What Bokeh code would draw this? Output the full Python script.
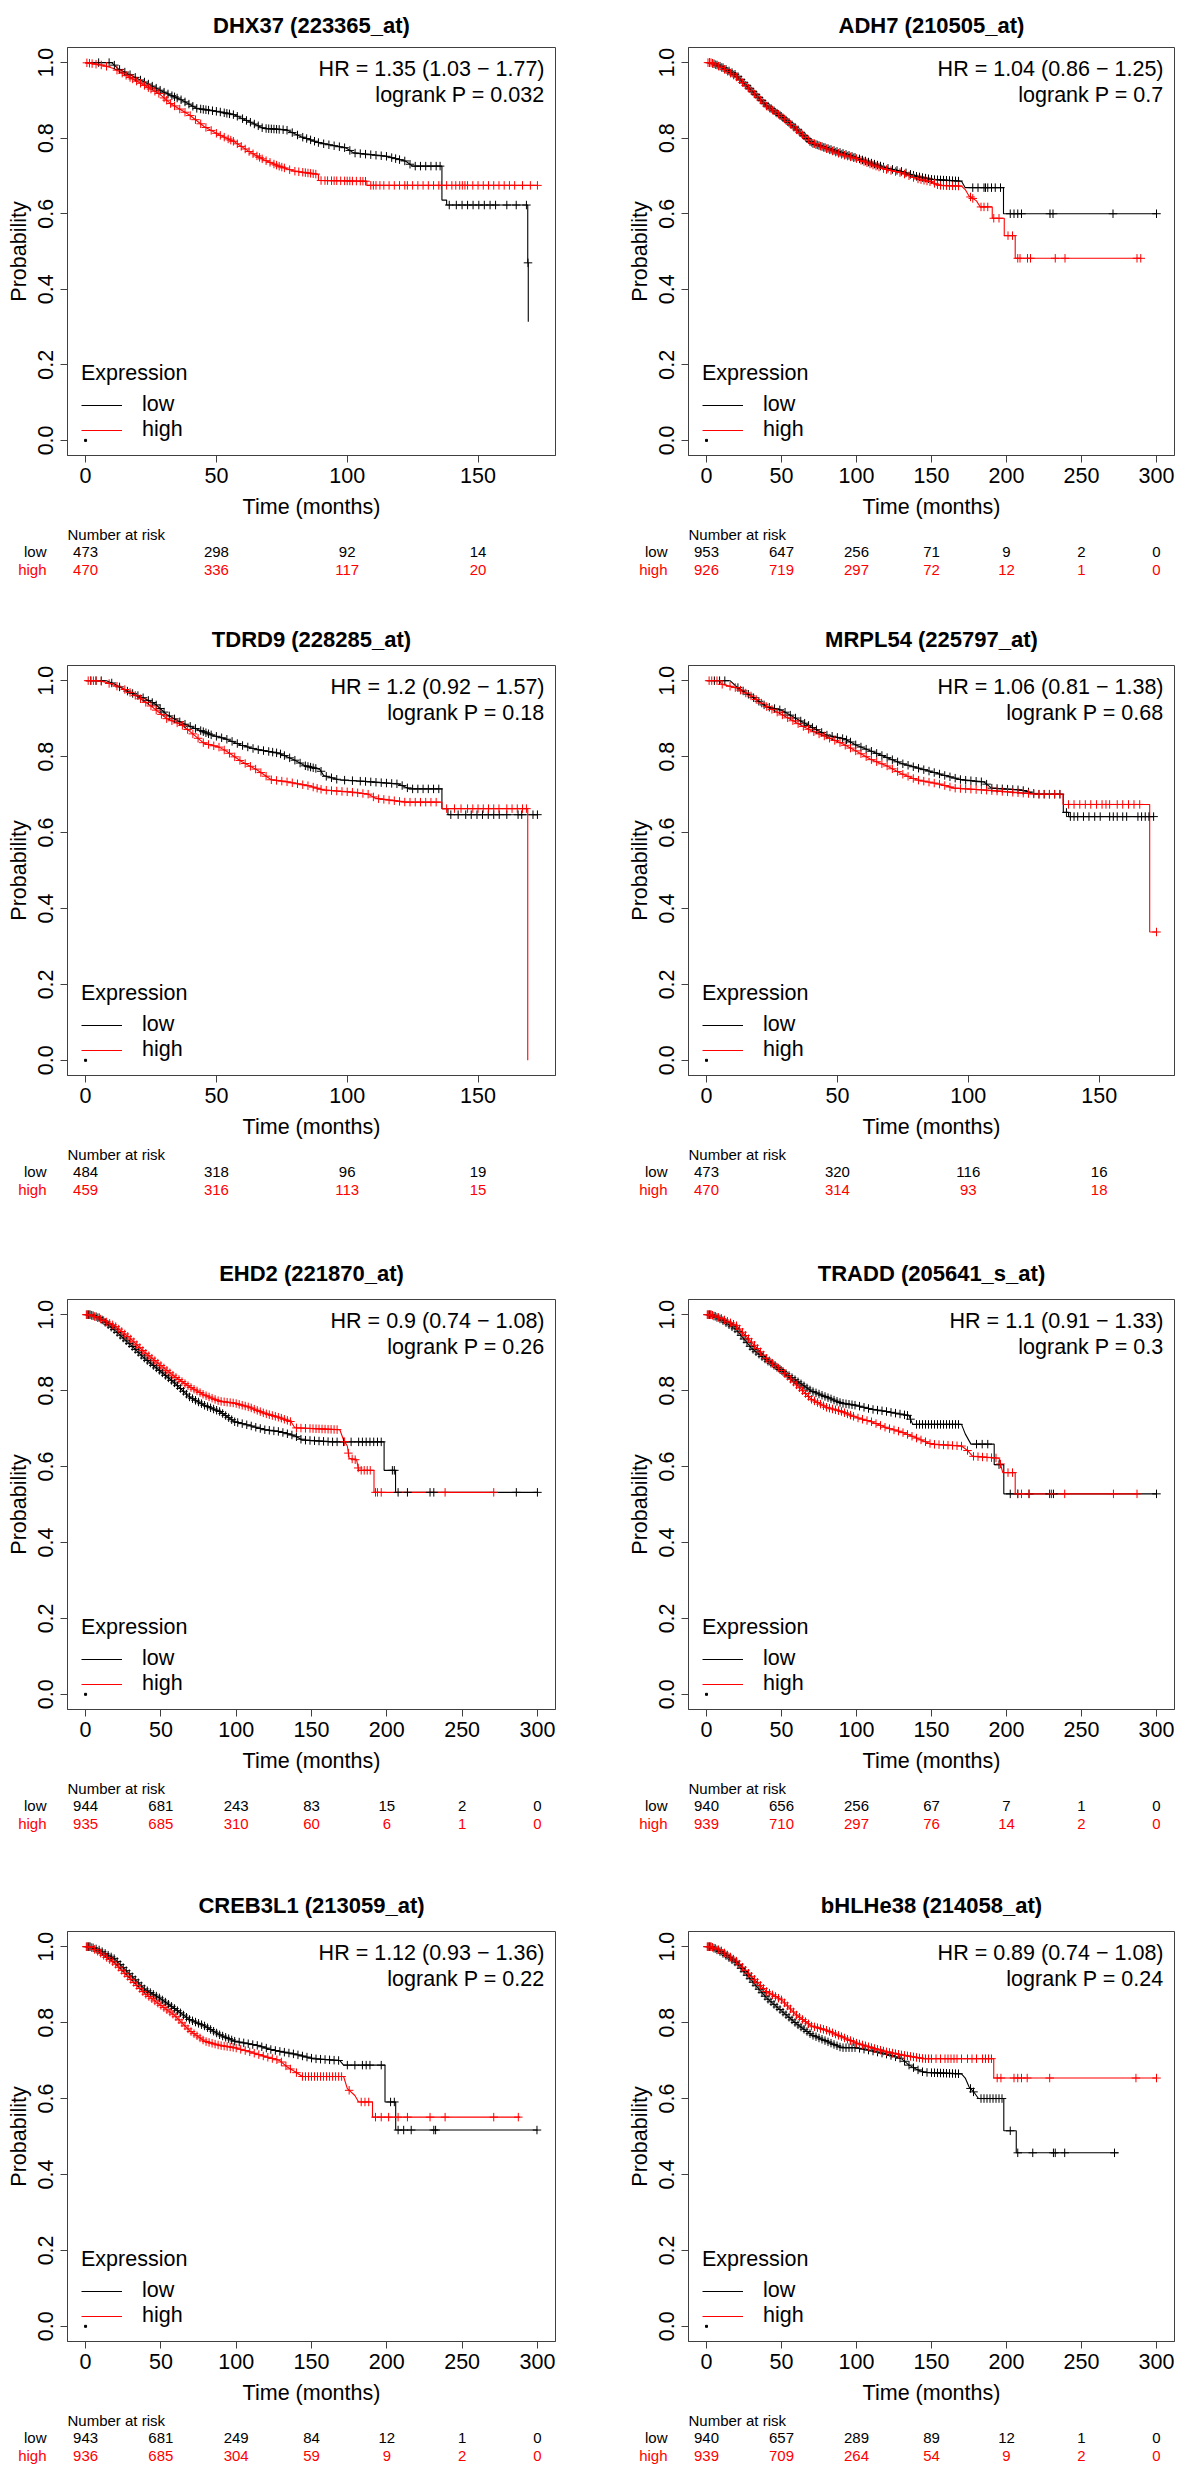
import math
from bokeh.plotting import figure
from bokeh.models import (Range1d, FixedTicker, PrintfTickFormatter, Label,
                          Legend, LegendItem, ColumnDataSource)
from bokeh.layouts import column, row
from bokeh.core.properties import value
from bokeh.embed import file_html
from bokeh.resources import INLINE

FONT = "Liberation Sans"
BOX = "#404040"
RED = "#FF0000"

# ---------------------------------------------------------------- DHX37
dhx37_low_t = [0, 10, 12.4, 22.4, 29.6, 36.7, 42.4, 51, 56.7, 65.3, 68, 76.7, 82.4, 89.6, 99.6, 102.4, 115, 122.4, 125, 136.2, 136.2, 138, 138, 169, 169, 169.2, 169.2]
dhx37_low_s = [1, 1, 0.984, 0.949, 0.923, 0.901, 0.879, 0.870, 0.862, 0.835, 0.826, 0.822, 0.804, 0.787, 0.774, 0.761, 0.752, 0.739, 0.726, 0.726, 0.636, 0.636, 0.623, 0.623, 0.470, 0.470, 0.314]
dhx37_high_t = [0, 6.7, 11, 15.3, 22.4, 28.1, 32.4, 39.6, 45.3, 51, 56.7, 62.4, 68.1, 73.9, 79.6, 89, 89, 107.5, 107.5, 172.7]
dhx37_high_s = [1, 0.993, 0.984, 0.967, 0.940, 0.918, 0.892, 0.862, 0.831, 0.809, 0.791, 0.765, 0.743, 0.726, 0.713, 0.704, 0.688, 0.686, 0.675, 0.675]
dhx37_low_cens = [5, 9, 11, 13, 15, 17, 19, 21, 22.5, 24, 25.5, 27, 28.5, 30, 31.5, 33, 34, 35, 36.5, 38, 39.5, 41, 42.5, 44, 45, 46, 47, 48.5, 50, 51.5, 53, 54, 55, 56.5, 58, 60, 61.5, 63, 64.5, 66, 67.5, 69, 70, 71, 72, 73, 74, 75.5, 77, 79, 81, 83, 84.5, 86, 87.5, 89, 91, 93, 95, 97, 99, 101, 103, 105, 107, 109, 111, 113, 115, 117, 118.5, 120, 122, 124, 126, 128, 130, 132, 134, 135.5, 139, 141.7, 143.9, 146, 148.1, 150.3, 152.4, 154.6, 156.7, 161, 164.6, 168.5, 169.1]
dhx37_high_cens = [0.5, 1.5, 2.5, 4, 6, 8, 12, 14, 15.5, 17, 18, 19.5, 21, 22.5, 24, 25, 26.5, 28, 30, 31, 32.5, 34, 36, 38, 40, 42, 44, 46, 48, 50, 51.5, 53, 54.5, 55.5, 56.5, 58, 59.5, 61, 62.5, 64, 65.5, 66.5, 67.5, 69, 70.5, 72, 73, 74, 75, 76, 78, 80, 81.5, 83, 84, 85, 86, 87, 88, 90, 91.5, 92.5, 94, 95, 96, 97.5, 99, 100, 101, 102, 103.5, 105, 106, 107, 109, 110, 111, 112.5, 114, 116, 118, 120, 122, 123, 125, 127, 129, 131, 133, 135, 136, 138, 140, 141.5, 143, 144, 145, 146, 148, 150, 152, 154, 156, 158, 160, 162, 164, 167, 170, 172.7]
dhx37_risk_t = [0, 50, 100, 150]
dhx37_risk_low = [473, 298, 92, 14]
dhx37_risk_high = [470, 336, 117, 20]

# ---------------------------------------------------------------- ADH7
adh7_low_t = [0, 3, 10, 20, 30, 40, 50, 60, 70, 80, 90, 100, 110, 120, 130, 140, 150, 170, 172.5, 198, 198, 300]
adh7_low_s = [1, 1, 0.989, 0.967, 0.927, 0.888, 0.857, 0.826, 0.787, 0.774, 0.761, 0.748, 0.734, 0.721, 0.712, 0.699, 0.691, 0.686, 0.669, 0.669, 0.600, 0.600]
adh7_high_t = [0, 3, 10, 20, 30, 40, 50, 60, 70, 80, 90, 100, 110, 120, 130, 140, 150, 155, 170, 172.5, 175, 180, 182.5, 190.5, 190.5, 198.5, 198.5, 205.8, 205.8, 289.5]
adh7_high_s = [1, 1, 0.987, 0.962, 0.925, 0.885, 0.858, 0.822, 0.789, 0.772, 0.757, 0.746, 0.730, 0.717, 0.708, 0.693, 0.684, 0.675, 0.673, 0.664, 0.647, 0.634, 0.618, 0.618, 0.588, 0.588, 0.542, 0.542, 0.482, 0.482]
adh7_low_cens = [2, 4, 5, 7, 9, 11, 13, 15, 17, 19, 21, 23, 25, 27, 29, 31, 33, 35, 37, 39, 41, 43, 45, 47, 49, 51, 53, 55, 57, 59, 61, 63, 65, 67, 69, 71, 73, 75, 77, 79, 81, 83, 85, 87, 89, 91, 93, 95, 97, 99, 102, 104, 106, 108, 110, 112, 114, 116, 118, 121, 124, 127, 130, 133, 136, 138, 140, 142, 144, 146, 148, 150, 152, 154, 156, 158, 160, 162, 164, 166, 168, 177.5, 181, 185, 186, 187.5, 190, 192.5, 196, 202.5, 205, 207.5, 210, 229, 231, 271, 300]
adh7_high_cens = [1, 2, 3, 4, 6, 8, 10, 12, 14, 16, 18, 20, 22, 24, 26, 28, 30, 32, 34, 36, 38, 40, 42, 44, 46, 48, 50, 52, 54, 56, 58, 60, 62, 64, 66, 68, 70, 72, 74, 76, 78, 80, 82, 84, 86, 88, 90, 92, 94, 96, 98, 100, 103, 105, 107, 109, 111, 113, 115, 118, 120, 123, 126, 129, 132, 135, 138, 141, 143, 145, 147, 149, 152, 154, 156, 158, 160, 162, 164, 166, 168, 176, 177.5, 183, 185, 187.5, 191.5, 195, 201, 204, 207.5, 209, 214, 216, 232.5, 239, 287, 289.5]
adh7_risk_t = [0, 50, 100, 150, 200, 250, 300]
adh7_risk_low = [953, 647, 256, 71, 9, 2, 0]
adh7_risk_high = [926, 719, 297, 72, 12, 1, 0]

# ---------------------------------------------------------------- TDRD9
tdrd9_low_t = [0, 8, 11, 16.7, 22.4, 26.7, 31, 36.7, 42.4, 48.1, 53.9, 59.6, 65.3, 73.9, 79.6, 83.9, 89.6, 91, 96.7, 108, 119.6, 123.9, 136.2, 136.2, 138.5, 138.5, 172.7]
tdrd9_low_s = [1, 1, 0.991, 0.970, 0.954, 0.938, 0.911, 0.889, 0.873, 0.857, 0.846, 0.830, 0.819, 0.809, 0.792, 0.776, 0.766, 0.750, 0.739, 0.734, 0.728, 0.715, 0.715, 0.663, 0.663, 0.647, 0.647]
tdrd9_high_t = [0, 5, 8, 13.9, 19.6, 25.3, 31, 36.7, 39.6, 45.3, 51, 53.9, 59.6, 65.3, 71, 76.7, 85.3, 91, 102.4, 108.1, 111, 122.4, 136.2, 136.2, 169, 169]
tdrd9_high_s = [1, 1, 0.995, 0.981, 0.959, 0.932, 0.900, 0.884, 0.868, 0.835, 0.825, 0.814, 0.787, 0.766, 0.739, 0.734, 0.723, 0.712, 0.706, 0.701, 0.690, 0.680, 0.680, 0.663, 0.663, 0.0]
tdrd9_low_cens = [2, 4, 6, 10, 13, 16, 18, 20, 22, 24, 25.5, 27, 28.5, 30, 32, 34, 36, 38, 40, 42, 44, 45, 46, 47, 48, 50, 52, 54, 56, 58, 60, 62, 64, 66, 68, 70, 71.5, 73, 74.5, 76, 78, 80, 82, 84, 85, 86, 87, 88, 90, 92, 94, 96, 99, 102, 105, 107, 109, 111, 113, 115, 117, 119, 121, 123, 125, 127, 129, 131, 133, 135, 139.6, 142.4, 145.3, 147.4, 149.6, 151.7, 153.9, 156, 158.1, 161, 165.3, 166.7, 171, 172.7]
tdrd9_high_cens = [1, 2, 3, 4, 6, 9, 12, 15, 17, 19, 21, 23, 25, 27, 29, 31, 33, 35, 37, 39, 41, 43, 45, 47, 49, 51, 53, 55, 57, 59, 61, 63, 65, 67, 69, 71, 73, 75, 77, 79, 81, 83, 85, 87, 88.5, 90, 92, 94, 96, 98, 100, 102, 104, 106, 108, 110, 112, 114, 116, 118, 120, 122, 124, 126, 128, 130, 132, 134, 138, 141, 143.5, 146, 148, 150, 152, 154, 156, 158, 161, 163, 165, 167, 168.5]
tdrd9_risk_t = [0, 50, 100, 150]
tdrd9_risk_low = [484, 318, 96, 19]
tdrd9_risk_high = [459, 316, 113, 15]

# ---------------------------------------------------------------- MRPL54
mrpl54_low_t = [0, 9, 11.5, 17.2, 22.9, 28.7, 34.4, 40.1, 45.8, 53, 57.3, 63, 68.8, 74.5, 80.2, 86, 91.7, 97.4, 106, 108.9, 120.3, 126.1, 136.3, 136.3, 138.3, 138.3, 170.8]
mrpl54_low_s = [1, 1, 0.984, 0.959, 0.932, 0.922, 0.900, 0.878, 0.857, 0.846, 0.830, 0.814, 0.798, 0.782, 0.771, 0.760, 0.749, 0.739, 0.733, 0.717, 0.712, 0.701, 0.701, 0.653, 0.653, 0.642, 0.642]
mrpl54_high_t = [0, 5, 5.7, 11.5, 17.2, 22.9, 28.7, 34.4, 40.1, 45.8, 51.6, 57.3, 63, 68.8, 74.5, 80.2, 88.8, 94.6, 106, 111.7, 126.1, 136.2, 136.2, 169.3, 169.3, 171.9]
mrpl54_high_s = [1, 1, 0.991, 0.981, 0.959, 0.932, 0.911, 0.889, 0.868, 0.852, 0.835, 0.814, 0.792, 0.776, 0.755, 0.739, 0.728, 0.717, 0.712, 0.709, 0.701, 0.701, 0.674, 0.674, 0.338, 0.338]
mrpl54_low_cens = [3, 5, 7, 12, 14, 16, 18, 20, 22, 24, 26, 28, 30, 32, 34, 36, 37.5, 39, 40.5, 42, 44, 46, 48, 50, 52, 53.5, 55, 57, 59, 61, 63, 65, 67, 69, 71, 73, 75, 77, 79, 81, 83, 85, 87, 89, 91, 93, 95, 97, 99, 101, 103, 105, 107, 109, 111, 113, 115, 117, 119, 121, 123, 125, 127, 129, 131, 133, 135, 137.5, 139, 140.4, 141.8, 144, 146.1, 148.3, 150.4, 154, 155.4, 156.9, 159, 160.5, 164.8, 166.2, 167.6, 169, 170.8]
mrpl54_high_cens = [1, 2, 4, 6, 9, 11, 13, 15, 17, 19, 21, 23, 25, 27, 29, 31, 33, 35, 37, 39, 41, 43, 45, 47, 49, 51, 53, 55, 57, 59, 61, 63, 65, 67, 69, 71, 73, 75, 77, 79, 81, 83, 85, 87, 89, 91, 93, 95, 97, 99, 101, 103, 105, 107, 109, 111, 113, 115, 117, 119, 121, 123, 125, 127, 129, 131, 133, 135, 138.3, 140.4, 142.6, 144.7, 146.8, 149, 151.1, 152.6, 154, 156.9, 159, 161.2, 163.3, 165.5, 171.9]
mrpl54_risk_t = [0, 50, 100, 150]
mrpl54_risk_low = [473, 320, 116, 16]
mrpl54_risk_high = [470, 314, 93, 18]

# ---------------------------------------------------------------- EHD2
ehd2_low_t = [0, 3, 9.2, 19.2, 29.2, 39.2, 49.1, 59.1, 69.1, 79.1, 89, 99, 109, 118.9, 128.9, 138.9, 143.9, 163.8, 198.2, 198.2, 205.8, 205.8, 300]
ehd2_low_s = [1, 1, 0.992, 0.960, 0.923, 0.885, 0.853, 0.820, 0.783, 0.761, 0.745, 0.718, 0.708, 0.697, 0.692, 0.681, 0.670, 0.665, 0.665, 0.590, 0.590, 0.532, 0.532]
ehd2_high_t = [0, 3, 9.2, 19.2, 29.2, 39.2, 49.1, 59.1, 69.1, 79.1, 89, 99, 109, 118.9, 128.9, 136.4, 138.9, 168.8, 171.3, 173.8, 175, 180, 181.3, 191.5, 191.5, 271]
ehd2_high_s = [1, 1, 0.990, 0.971, 0.939, 0.901, 0.869, 0.837, 0.810, 0.788, 0.772, 0.767, 0.756, 0.740, 0.729, 0.718, 0.702, 0.697, 0.670, 0.654, 0.622, 0.617, 0.590, 0.590, 0.532, 0.532]
ehd2_low_cens = [1, 2, 3, 4, 5, 7, 9, 11, 13, 15, 17, 19, 21, 23, 25, 27, 29, 31, 33, 35, 37, 39, 41, 43, 45, 47, 49, 51, 53, 55, 57, 59, 61, 63, 65, 67, 69, 71, 73, 75, 77, 79, 81, 83, 85, 87, 89, 91, 93, 95, 97, 99, 101, 104, 107, 110, 113, 116, 119, 122, 125, 128, 131, 134, 137, 140, 143, 146, 149, 152, 155, 158, 161, 164, 167, 171.3, 176.3, 181.3, 183.8, 186.3, 188.8, 191.3, 193.8, 196.3, 203.7, 205, 207.5, 213.7, 228.7, 231.2, 286, 300]
ehd2_high_cens = [0.5, 1.5, 2.5, 4, 6, 8, 10, 12, 14, 16, 18, 20, 22, 24, 26, 28, 30, 32, 34, 36, 38, 40, 42, 44, 46, 48, 50, 52, 54, 56, 58, 60, 62, 64, 66, 68, 70, 72, 74, 76, 78, 80, 82, 84, 86, 88, 90, 92, 94, 96, 98, 100, 102, 104, 106, 108, 110, 112, 114, 116, 118, 120, 122, 124, 126, 128, 130, 132, 134, 136, 140, 143, 146, 149, 151, 153, 155, 157, 159, 161, 163, 165, 167, 172, 174.5, 177, 179, 181, 183, 185, 187, 189, 192.5, 193.8, 196.3, 238.7, 271]
ehd2_risk_t = [0, 50, 100, 150, 200, 250, 300]
ehd2_risk_low = [944, 681, 243, 83, 15, 2, 0]
ehd2_risk_high = [935, 685, 310, 60, 6, 1, 0]

# ---------------------------------------------------------------- TRADD
tradd_low_t = [0, 3, 10, 20, 30, 40, 50, 60, 70, 80, 90, 100, 110, 120, 135, 137.5, 170, 172.5, 176.3, 191.8, 191.8, 198.2, 198.2, 300]
tradd_low_s = [1, 1, 0.987, 0.960, 0.912, 0.880, 0.853, 0.826, 0.799, 0.783, 0.767, 0.761, 0.751, 0.745, 0.734, 0.711, 0.711, 0.686, 0.659, 0.659, 0.605, 0.605, 0.528, 0.528]
tradd_high_t = [0, 3, 10, 20, 30, 40, 50, 60, 70, 80, 90, 100, 110, 120, 130, 140, 150, 170, 173.8, 177.5, 195, 197.5, 205.8, 205.8, 287.5]
tradd_high_s = [1, 1, 0.990, 0.971, 0.928, 0.885, 0.853, 0.815, 0.777, 0.756, 0.745, 0.729, 0.718, 0.702, 0.691, 0.675, 0.659, 0.654, 0.643, 0.627, 0.622, 0.584, 0.584, 0.528, 0.528]
tradd_low_cens = [1, 2, 3, 5, 7, 9, 11, 13, 15, 17, 19, 21, 23, 25, 27, 29, 31, 33, 35, 37, 39, 41, 43, 45, 47, 49, 51, 53, 55, 57, 59, 61, 63, 65, 67, 69, 71, 73, 75, 77, 79, 81, 83, 85, 87, 89, 91, 93, 95, 97, 99, 102, 105, 108, 111, 114, 117, 120, 123, 126, 129, 132, 134, 136, 140, 142, 144, 146, 148, 150, 152, 154, 156, 158, 160, 162, 164, 166, 168, 180, 183.8, 187.5, 195, 202.5, 207.5, 215, 228.8, 231.3, 300]
tradd_high_cens = [0.5, 1.5, 2.5, 4, 6, 8, 10, 12, 14, 16, 18, 20, 22, 24, 26, 28, 30, 32, 34, 36, 38, 40, 42, 44, 46, 48, 50, 52, 54, 56, 58, 60, 62, 64, 66, 68, 70, 72, 74, 76, 78, 80, 82, 84, 86, 88, 90, 92, 94, 96, 98, 101, 104, 107, 110, 113, 116, 119, 122, 125, 128, 131, 134, 137, 140, 143, 146, 149, 152, 155, 158, 161, 164, 167, 170, 174, 178, 181, 184, 187, 190, 193, 196, 201, 204, 207.5, 210, 215, 230, 238.8, 271.3, 287]
tradd_risk_t = [0, 50, 100, 150, 200, 250, 300]
tradd_risk_low = [940, 656, 256, 67, 7, 1, 0]
tradd_risk_high = [939, 710, 297, 76, 14, 2, 0]

# ---------------------------------------------------------------- CREB3L1
creb3l1_low_t = [0, 3, 9.2, 19.2, 29.2, 39.2, 49.1, 59.1, 69.1, 79.1, 89, 99, 114, 124, 138.9, 151.4, 168.8, 171.3, 198.8, 198.8, 205.9, 205.9, 300]
creb3l1_low_s = [1, 1, 0.991, 0.968, 0.928, 0.888, 0.865, 0.837, 0.808, 0.791, 0.768, 0.751, 0.740, 0.728, 0.717, 0.705, 0.700, 0.688, 0.688, 0.591, 0.591, 0.517, 0.517]
creb3l1_high_t = [0, 3, 9.2, 19.2, 29.2, 39.2, 49.1, 59.1, 69.1, 79.1, 89, 99, 109, 118.9, 128.9, 133.9, 138.9, 143.9, 171.3, 173.8, 178.8, 181.3, 190.5, 190.5, 288.5]
creb3l1_high_s = [1, 1, 0.985, 0.957, 0.917, 0.877, 0.848, 0.819, 0.779, 0.751, 0.740, 0.734, 0.723, 0.711, 0.700, 0.683, 0.671, 0.658, 0.658, 0.626, 0.608, 0.591, 0.591, 0.551, 0.551]
creb3l1_low_cens = [1, 2, 3, 5, 7, 9, 11, 13, 15, 17, 19, 21, 23, 25, 27, 29, 31, 33, 35, 37, 39, 41, 43, 45, 47, 49, 51, 53, 55, 57, 59, 61, 63, 65, 67, 69, 71, 73, 75, 77, 79, 81, 83, 85, 87, 89, 91, 93, 95, 97, 99, 102, 105, 108, 111, 114, 117, 120, 123, 126, 129, 132, 135, 138, 141, 144, 147, 150, 153, 156, 159, 162, 165, 168, 173.8, 178.8, 183.8, 186.3, 188.8, 196.3, 202.5, 205, 207.5, 211.2, 216.2, 231.2, 232.4, 299.7]
creb3l1_high_cens = [0.5, 1.5, 2.5, 4, 6, 8, 10, 12, 14, 16, 18, 20, 22, 24, 26, 28, 30, 32, 34, 36, 38, 40, 42, 44, 46, 48, 50, 52, 54, 56, 58, 60, 62, 64, 66, 68, 70, 72, 74, 76, 78, 80, 82, 84, 86, 88, 90, 92, 94, 96, 98, 100, 103, 106, 109, 112, 115, 118, 121, 124, 127, 130, 133, 136, 140, 144, 146, 148, 150, 152, 154, 156, 158, 160, 162, 164, 166, 168, 170, 175, 183, 185.5, 188, 192.5, 196.3, 201.2, 207.5, 213.7, 228.7, 238.7, 271, 287.3]
creb3l1_risk_t = [0, 50, 100, 150, 200, 250, 300]
creb3l1_risk_low = [943, 681, 249, 84, 12, 1, 0]
creb3l1_risk_high = [936, 685, 304, 59, 9, 2, 0]

# ---------------------------------------------------------------- bHLHe38
bhlhe38_low_t = [0, 3, 10, 20, 30, 40, 50, 60, 70, 80, 90, 100, 110, 120, 130, 135, 140, 145, 170, 172.5, 175, 178.8, 181.3, 198.2, 198.2, 206.5, 206.5, 274.5]
bhlhe38_low_s = [1, 1, 0.985, 0.957, 0.911, 0.865, 0.831, 0.797, 0.768, 0.751, 0.734, 0.734, 0.726, 0.717, 0.705, 0.688, 0.677, 0.669, 0.665, 0.654, 0.631, 0.614, 0.600, 0.600, 0.515, 0.515, 0.457, 0.457]
bhlhe38_high_t = [0, 3, 10, 20, 30, 40, 50, 60, 70, 80, 90, 100, 110, 120, 130, 145, 191.5, 191.5, 300]
bhlhe38_high_s = [1, 1, 0.989, 0.962, 0.922, 0.882, 0.860, 0.820, 0.791, 0.780, 0.763, 0.746, 0.734, 0.723, 0.715, 0.705, 0.705, 0.654, 0.654]
bhlhe38_low_cens = [1, 2, 3, 5, 7, 9, 11, 13, 15, 17, 19, 21, 23, 25, 27, 29, 31, 33, 35, 37, 39, 41, 43, 45, 47, 49, 51, 53, 55, 57, 59, 61, 63, 65, 67, 69, 71, 73, 75, 77, 79, 81, 83, 85, 87, 89, 91, 93, 95, 97, 99, 102, 105, 108, 111, 114, 117, 120, 123, 126, 129, 132, 135, 138, 141, 144, 147, 150, 152, 154, 156, 158, 160, 162, 164, 166, 168, 176, 178, 183, 185, 187, 189, 191, 193, 195, 197, 202.5, 207.5, 217.5, 231.3, 232.5, 238.8, 272]
bhlhe38_high_cens = [0.5, 1.5, 2.5, 4, 6, 8, 10, 12, 14, 16, 18, 20, 22, 24, 26, 28, 30, 32, 34, 36, 38, 40, 42, 44, 46, 48, 50, 52, 54, 56, 58, 60, 62, 64, 66, 68, 70, 72, 74, 76, 78, 80, 82, 84, 86, 88, 90, 92, 94, 96, 98, 100, 102, 104, 106, 108, 110, 112, 114, 116, 118, 120, 122, 124, 126, 128, 130, 132, 134, 136, 138, 140, 142, 144, 146, 148, 150, 153, 156, 159, 161, 163, 165, 167, 170, 174, 177, 180, 184, 186, 188, 190, 193.8, 196.3, 205, 207.5, 210, 213.8, 228.8, 286.3, 300]
bhlhe38_risk_t = [0, 50, 100, 150, 200, 250, 300]
bhlhe38_risk_low = [940, 657, 289, 89, 12, 1, 0]
bhlhe38_risk_high = [939, 709, 264, 54, 9, 2, 0]

titles = ["DHX37 (223365_at)", "ADH7 (210505_at)", "TDRD9 (228285_at)", "MRPL54 (225797_at)",
          "EHD2 (221870_at)", "TRADD (205641_s_at)", "CREB3L1 (213059_at)", "bHLHe38 (214058_at)"]
hr_texts = ["HR = 1.35 (1.03 \u2212 1.77)", "HR = 1.04 (0.86 \u2212 1.25)", "HR = 1.2 (0.92 \u2212 1.57)",
            "HR = 1.06 (0.81 \u2212 1.38)", "HR = 0.9 (0.74 \u2212 1.08)", "HR = 1.1 (0.91 \u2212 1.33)",
            "HR = 1.12 (0.93 \u2212 1.36)", "HR = 0.89 (0.74 \u2212 1.08)"]
p_texts = ["logrank P = 0.032", "logrank P = 0.7", "logrank P = 0.18", "logrank P = 0.68",
           "logrank P = 0.26", "logrank P = 0.3", "logrank P = 0.22", "logrank P = 0.24"]
y_ticks = [0.0, 0.2, 0.4, 0.6, 0.8, 1.0]
risk_groups = ["low", "high"]

panels = [
    (dhx37_low_t, dhx37_low_s, dhx37_high_t, dhx37_high_s, dhx37_low_cens, dhx37_high_cens, dhx37_risk_t, dhx37_risk_low, dhx37_risk_high),
    (adh7_low_t, adh7_low_s, adh7_high_t, adh7_high_s, adh7_low_cens, adh7_high_cens, adh7_risk_t, adh7_risk_low, adh7_risk_high),
    (tdrd9_low_t, tdrd9_low_s, tdrd9_high_t, tdrd9_high_s, tdrd9_low_cens, tdrd9_high_cens, tdrd9_risk_t, tdrd9_risk_low, tdrd9_risk_high),
    (mrpl54_low_t, mrpl54_low_s, mrpl54_high_t, mrpl54_high_s, mrpl54_low_cens, mrpl54_high_cens, mrpl54_risk_t, mrpl54_risk_low, mrpl54_risk_high),
    (ehd2_low_t, ehd2_low_s, ehd2_high_t, ehd2_high_s, ehd2_low_cens, ehd2_high_cens, ehd2_risk_t, ehd2_risk_low, ehd2_risk_high),
    (tradd_low_t, tradd_low_s, tradd_high_t, tradd_high_s, tradd_low_cens, tradd_high_cens, tradd_risk_t, tradd_risk_low, tradd_risk_high),
    (creb3l1_low_t, creb3l1_low_s, creb3l1_high_t, creb3l1_high_s, creb3l1_low_cens, creb3l1_high_cens, creb3l1_risk_t, creb3l1_risk_low, creb3l1_risk_high),
    (bhlhe38_low_t, bhlhe38_low_s, bhlhe38_high_t, bhlhe38_high_s, bhlhe38_low_cens, bhlhe38_high_cens, bhlhe38_risk_t, bhlhe38_risk_low, bhlhe38_risk_high),
]

# layout (pixels)
ROW_H = [611, 634, 632, 587]
ROW_TOP = [45, 54, 54, 54]
TITLE_STANDOFF = [20, 27, 27, 27]
FRAME_H = 410
MAIN_BOTTOM = 70
LEFT_B = 67
COL_W = [621, 555]
RIGHT_B = [66, 2]
Y0, Y1 = -0.04, 1.04


def surv_at(ts, ss, t):
    for i in range(len(ts) - 1):
        if ts[i + 1] > ts[i] and ts[i] <= t <= ts[i + 1]:
            return ss[i] + (ss[i + 1] - ss[i]) * (t - ts[i]) / (ts[i + 1] - ts[i])
    return ss[-1]


def make_panel(idx, row_i, col_i):
    lt, ls, ht, hs, lc, hc, rt, rl, rh = panels[idx]
    xmax = max(max(lt), max(ht))
    x0, x1 = -0.04 * xmax, 1.04 * xmax
    W = COL_W[col_i]
    top = ROW_TOP[row_i]
    fw = W - LEFT_B - RIGHT_B[col_i]
    per_px = (x1 - x0) / fw

    def yd(px):
        return Y1 - px * (Y1 - Y0) / FRAME_H

    p = figure(width=W, height=top + FRAME_H + MAIN_BOTTOM, x_range=Range1d(x0, x1),
               y_range=Range1d(Y0, Y1), toolbar_location=None, output_backend="svg",
               min_border_left=LEFT_B, min_border_right=RIGHT_B[col_i],
               min_border_top=top, min_border_bottom=MAIN_BOTTOM,
               background_fill_color="white", border_fill_color="white")
    p.outline_line_color = BOX
    p.outline_line_width = 1
    p.xgrid.visible = False
    p.ygrid.visible = False

    p.title.text = titles[idx]
    p.title.align = "center"
    p.title.text_font = FONT
    p.title.text_font_size = "22px"
    p.title.text_font_style = "bold"
    p.title.text_color = "black"
    p.title.standoff = TITLE_STANDOFF[row_i]

    for ax in (p.xaxis[0], p.yaxis[0]):
        ax.axis_line_color = BOX
        ax.major_tick_line_color = BOX
        ax.major_tick_in = 0
        ax.major_tick_out = 7
        ax.minor_tick_line_color = None
        ax.major_label_text_font = FONT
        ax.major_label_text_font_size = "21.5px"
        ax.major_label_text_color = "black"
        ax.axis_label_text_font = FONT
        ax.axis_label_text_font_size = "21.5px"
        ax.axis_label_text_font_style = "normal"
        ax.axis_label_text_color = "black"
    p.xaxis.ticker = FixedTicker(ticks=rt)
    p.xaxis.axis_label = "Time (months)"
    p.xaxis.major_label_standoff = 5
    p.xaxis.axis_label_standoff = 9
    p.yaxis.ticker = FixedTicker(ticks=y_ticks)
    p.yaxis.formatter = PrintfTickFormatter(format="%.1f")
    p.yaxis.axis_label = "Probability"
    p.yaxis.major_label_orientation = "vertical"
    p.yaxis.major_label_standoff = 7
    p.yaxis.axis_label_standoff = 5

    r_low = p.line(lt, ls, line_color="black", line_width=1.1)
    r_high = p.line(ht, hs, line_color=RED, line_width=1.1)
    p.scatter(lc, [surv_at(lt, ls, t) for t in lc], marker="cross", size=8.5,
              line_color="black", line_width=1)
    p.scatter(hc, [surv_at(ht, hs, t) for t in hc], marker="cross", size=8.5,
              line_color=RED, line_width=1)
    p.scatter([0], [0], marker="square", size=2, color="black")

    legend = Legend(items=[LegendItem(label=risk_groups[0], renderers=[r_low]),
                           LegendItem(label=risk_groups[1], renderers=[r_high])],
                    title="Expression", location=(14, 13), orientation="vertical",
                    title_text_font=FONT, title_text_font_size="21.5px",
                    title_text_font_style="normal", title_text_color="black", title_standoff=6,
                    label_text_font=FONT, label_text_font_size="21.5px", label_text_color="black",
                    label_standoff=20, glyph_width=41, glyph_height=24, label_height=24,
                    spacing=0, padding=0, margin=0,
                    border_line_color=None, background_fill_alpha=0)
    p.add_layout(legend)

    for txt, off in ((hr_texts[idx], 21.4), (p_texts[idx], 47.4)):
        p.add_layout(Label(x=x1 - 11 * per_px, y=yd(off), text=txt, text_align="right",
                           text_baseline="middle", text_font=FONT, text_font_size="21.5px",
                           text_color="black"))

    # ---- number-at-risk table: a second figure sharing the x scale
    nh = ROW_H[row_i] - top - FRAME_H - MAIN_BOTTOM
    q = figure(width=W, height=nh, x_range=Range1d(x0 - LEFT_B * per_px, x1),
               y_range=Range1d(0, nh), toolbar_location=None, output_backend="svg",
               x_axis_type=None, y_axis_type=None,
               min_border_left=0, min_border_right=RIGHT_B[col_i],
               min_border_top=0, min_border_bottom=0,
               background_fill_color="white", border_fill_color="white")
    q.outline_line_color = None
    q.text(x=[x0], y=[nh - 9], text=["Number at risk"], text_align="left",
           text_baseline="middle", text_font=value(FONT), text_font_size=value("15px"),
           text_color="black")
    for name, vals, off, color in ((risk_groups[0], rl, 26, "black"), (risk_groups[1], rh, 44, RED)):
        q.text(x=[x0 - 21 * per_px], y=[nh - off], text=[name], text_align="right",
               text_baseline="middle", text_font=value(FONT), text_font_size=value("15px"),
               text_color=color)
        src = ColumnDataSource(dict(t=rt, y=[nh - off] * len(rt), n=[str(v) for v in vals]))
        q.text(x="t", y="y", text="n", source=src, text_align="center",
               text_baseline="middle", text_font=value(FONT), text_font_size=value("15px"),
               text_color=color)
    return p, q


rows = []
for r in range(4):
    pl, ql = make_panel(2 * r, r, 0)
    pr, qr = make_panel(2 * r + 1, r, 1)
    rows.append(row(pl, pr))
    rows.append(row(ql, qr))
layout = column(*rows)

open("out.html", "w").write(file_html(layout, INLINE))
